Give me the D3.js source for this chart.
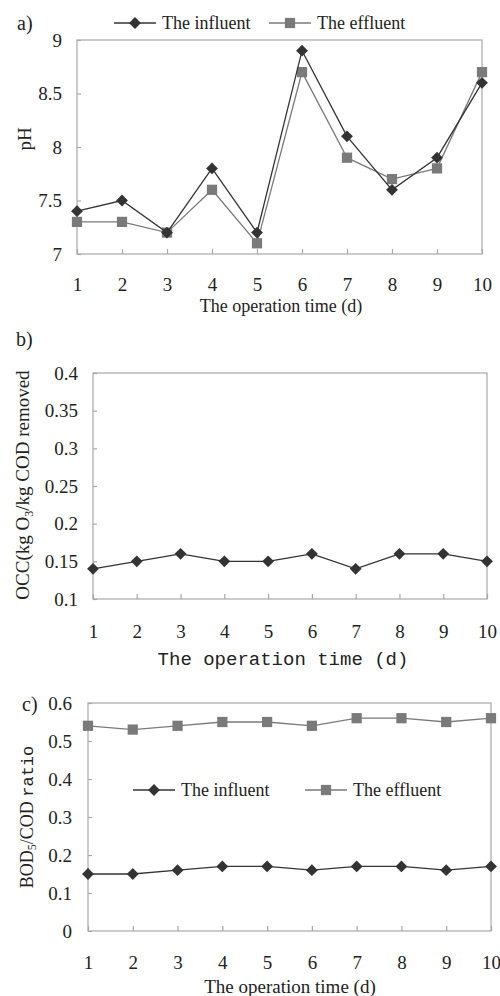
<!DOCTYPE html>
<html>
<head>
<meta charset="utf-8">
<script src="https://cdn.jsdelivr.net/npm/d3@7"></script>
<style>
  body { margin: 0; background: #fff; }
  svg text { font-family: "Liberation Serif", "DejaVu Serif", serif; fill: #222; }
  .mono { font-family: "Liberation Mono", "DejaVu Sans Mono", monospace; }
</style>
</head>
<body>
<svg id="chart" width="500" height="996"></svg>
<script>
let days = [1, 2, 3, 4, 5, 6, 7, 8, 9, 10]

let phInfluent = [7.4, 7.5, 7.2, 7.8, 7.2, 8.9, 8.1, 7.6, 7.9, 8.6]
let phEffluent = [7.3, 7.3, 7.2, 7.6, 7.1, 8.7, 7.9, 7.7, 7.8, 8.7]
let phTicks = [7, 7.5, 8, 8.5, 9]

let occValues = [0.14, 0.15, 0.16, 0.15, 0.15, 0.16, 0.14, 0.16, 0.16, 0.15]
let occTicks = [0.1, 0.15, 0.2, 0.25, 0.3, 0.35, 0.4]

let ratioInfluent = [0.15, 0.15, 0.16, 0.17, 0.17, 0.16, 0.17, 0.17, 0.16, 0.17]
let ratioEffluent = [0.54, 0.53, 0.54, 0.55, 0.55, 0.54, 0.56, 0.56, 0.55, 0.56]
let ratioTicks = [0, 0.1, 0.2, 0.3, 0.4, 0.5, 0.6]

let darkColor = '#333'
let grayColor = '#7a7a7a'
let frameColor = '#a8a8a8'

let svg = d3.select('#chart')

let diamond = d3.symbol().type(d3.symbolSquare).size(70)
let square = d3.symbol().type(d3.symbolSquare).size(105)

let drawMarker = (g, kind, x, y, color) => {
    if (kind == 'diamond') {
        g.append('path')
         .attr('d', diamond())
         .attr('fill', color)
         .attr('transform', 'translate(' + x + ',' + y + ') rotate(45)')
    } else {
        g.append('path')
         .attr('d', square())
         .attr('fill', color)
         .attr('transform', 'translate(' + x + ',' + y + ')')
    }
}

let drawPanel = (p) => {
    let xScale = d3.scaleLinear().domain([1, 10]).range([p.left, p.right])
    let yScale = d3.scaleLinear().domain(p.yDomain).range([p.bottom, p.top])

    // frame
    svg.append('rect')
       .attr('x', p.left)
       .attr('y', p.top)
       .attr('width', p.right - p.left)
       .attr('height', p.bottom - p.top)
       .attr('fill', 'none')
       .attr('stroke', frameColor)
       .attr('stroke-width', 1.2)

    let xAxis = d3.axisBottom(xScale)
                  .tickValues(days)
                  .tickFormat(d3.format('d'))
                  .tickSizeInner(-5)
                  .tickSizeOuter(0)
                  .tickPadding(p.xPad)
    let yAxis = d3.axisLeft(yScale)
                  .tickValues(p.yTicks)
                  .tickFormat(d3.format('~g'))
                  .tickSizeInner(-4)
                  .tickSizeOuter(0)
                  .tickPadding(p.yPad)

    let gx = svg.append('g')
                .attr('transform', 'translate(0,' + p.bottom + ')')
                .call(xAxis)
    let gy = svg.append('g')
                .attr('transform', 'translate(' + p.left + ',0)')
                .call(yAxis)
    ;[gx, gy].forEach(g => {
        g.select('.domain').remove()
        g.selectAll('line').attr('stroke', frameColor).attr('stroke-width', 1.2)
        g.selectAll('text')
         .style('font-family', '"Liberation Serif", serif')
         .style('font-size', '19px')
         .attr('fill', '#222')
    })

    let line = d3.line()
                 .x((d, i) => xScale(days[i]))
                 .y(d => yScale(d))

    p.series.forEach(s => {
        svg.append('path')
           .datum(s.values)
           .attr('d', line)
           .attr('fill', 'none')
           .attr('stroke', s.color)
           .attr('stroke-width', 1.3)
        let g = svg.append('g')
        s.values.forEach((v, i) => {
            drawMarker(g, s.marker, xScale(days[i]), yScale(v), s.color)
        })
    })

    svg.append('text')
       .text(p.tag)
       .attr('x', p.tagX)
       .attr('y', p.tagY)
       .style('font-size', '20px')
}

let drawLegend = (y, items) => {
    items.forEach(it => {
        svg.append('line')
           .attr('x1', it.x1).attr('x2', it.x2)
           .attr('y1', y).attr('y2', y)
           .attr('stroke', it.color)
           .attr('stroke-width', 1.3)
        drawMarker(svg, it.marker, (it.x1 + it.x2) / 2, y, it.color)
        svg.append('text')
           .text(it.label)
           .attr('x', it.x2 + 6)
           .attr('y', y + 6)
           .style('font-size', '18px')
    })
}

// panel a
drawPanel({
    left: 77, right: 482, top: 40, bottom: 254,
    yDomain: [7, 9], yTicks: phTicks, xPad: 24, yPad: 15,
    tag: 'a)', tagX: 17, tagY: 30,
    series: [
        {values: phEffluent, color: grayColor, marker: 'square'},
        {values: phInfluent, color: darkColor, marker: 'diamond'}
    ]
})
drawLegend(23, [
    {x1: 114, x2: 156, color: darkColor, marker: 'diamond', label: 'The influent'},
    {x1: 269, x2: 311, color: grayColor, marker: 'square', label: 'The effluent'}
])
svg.append('text')
   .text('pH')
   .attr('transform', 'translate(31,139) rotate(-90)')
   .attr('text-anchor', 'middle')
   .style('font-size', '19px')
svg.append('text')
   .text('The operation time (d)')
   .attr('x', 281).attr('y', 312)
   .attr('text-anchor', 'middle')
   .style('font-size', '18px')

// panel b
drawPanel({
    left: 93, right: 487, top: 373, bottom: 599,
    yDomain: [0.1, 0.4], yTicks: occTicks, xPad: 26, yPad: 15,
    tag: 'b)', tagX: 16, tagY: 346,
    series: [
        {values: occValues, color: darkColor, marker: 'diamond'}
    ]
})
let occLabel = svg.append('text')
   .attr('transform', 'translate(29,485) rotate(-90)')
   .attr('text-anchor', 'middle')
   .style('font-size', '19px')
occLabel.append('tspan').text('OCC(kg O')
occLabel.append('tspan').text('3').attr('dy', 4).style('font-size', '12px')
occLabel.append('tspan').text('/kg COD removed').attr('dy', -4)
svg.append('text')
   .attr('class', 'mono')
   .text('The operation time (d)')
   .attr('x', 283).attr('y', 665)
   .attr('text-anchor', 'middle')
   .style('font-size', '19px')

// panel c
drawPanel({
    left: 88, right: 491, top: 703, bottom: 931,
    yDomain: [0, 0.6], yTicks: ratioTicks, xPad: 25, yPad: 16,
    tag: 'c)', tagX: 22, tagY: 711,
    series: [
        {values: ratioEffluent, color: grayColor, marker: 'square'},
        {values: ratioInfluent, color: darkColor, marker: 'diamond'}
    ]
})
drawLegend(790, [
    {x1: 133, x2: 175, color: darkColor, marker: 'diamond', label: 'The influent'},
    {x1: 305, x2: 347, color: grayColor, marker: 'square', label: 'The effluent'}
])
let ratioLabel = svg.append('text')
   .attr('transform', 'translate(33,817) rotate(-90)')
   .attr('text-anchor', 'middle')
   .style('font-size', '18px')
ratioLabel.append('tspan').text('BOD')
ratioLabel.append('tspan').text('5').attr('dy', 3).style('font-size', '12px')
ratioLabel.append('tspan').text('/COD ').attr('dy', -3)
ratioLabel.append('tspan').attr('class', 'mono').text('ratio').style('font-size', '17px')
svg.append('text')
   .text('The operation time (d)')
   .attr('x', 290).attr('y', 993)
   .attr('text-anchor', 'middle')
   .style('font-size', '19px')
</script>
</body>
</html>
